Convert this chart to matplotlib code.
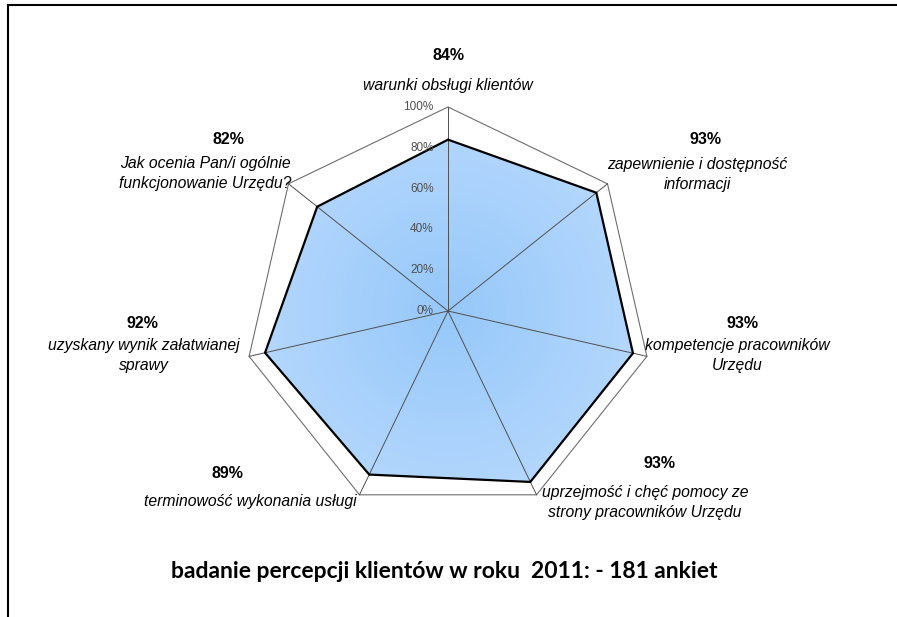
import numpy as np
import matplotlib.pyplot as plt
from matplotlib.patches import Polygon
from matplotlib.lines import Line2D

categories = [
    'warunki obsługi klientów',
    'zapewnienie i dostępność\ninformacji',
    'kompetencje pracowników\nUrzędu',
    'uprzejmość i chęć pomocy ze\nstrony pracowników Urzędu',
    'terminowość wykonania usługi',
    'uzyskany wynik załatwianej\nsprawy',
    'Jak ocenia Pan/i ogólnie\nfunkcjonowanie Urzędu?',
]
values = [84, 93, 93, 93, 89, 92, 82]
ticks = [0, 20, 40, 60, 80, 100]
title = 'badanie percepcji klientów w roku  2011: - 181 ankiet'

# label anchors in pixels: (percent x, percent y, text x, first line y)
label_pos = [
    (448, 56, 448, 87),
    (705, 140, 697, 166),
    (742, 323, 737, 347),
    (660, 463, 645, 494),
    (227, 474, 250, 503),
    (142, 323, 144, 347),
    (228, 140, 205, 165),
]

W, H = 897, 617
fig = plt.figure(figsize=(W / 100, H / 100), dpi=100)
cx, cy = 448, H - 311
scale = 2.04  # px per percent
ax = fig.add_axes([0, 0, 1, 1])
ax.set_xlim(-cx / scale, (W - cx) / scale)
ax.set_ylim(-cy / scale, (H - cy) / scale)
ax.axis('off')

n = len(values)
ang = np.arange(n) * 2 * np.pi / n
v = np.array(values, dtype=float)
xs, ys = v * np.sin(ang), v * np.cos(ang)
ox, oy = 100 * np.sin(ang), 100 * np.cos(ang)

# gradient fill clipped to the data polygon
gx, gy = np.meshgrid(np.linspace(-100, 100, 300), np.linspace(-100, 100, 300))
d = np.clip(np.hypot(gx, gy) / 100, 0, 1)
c0 = np.array([150, 200, 250]) / 255
c1 = np.array([182, 216, 253]) / 255
img = c0[None, None, :] * (1 - d[..., None]) + c1[None, None, :] * d[..., None]
poly = Polygon(np.column_stack([xs, ys]), closed=True, facecolor='none',
               edgecolor='black', linewidth=1.6, zorder=4)
ax.add_patch(poly)
im = ax.imshow(img, extent=(-100, 100, -100, 100), origin='lower', zorder=2)
im.set_clip_path(poly)

# outer ring and spokes
ax.add_patch(Polygon(np.column_stack([ox, oy]), closed=True, facecolor='none',
                     edgecolor='#6e6e6e', linewidth=0.8, zorder=3))
for x1, y1 in zip(ox, oy):
    ax.plot([0, x1], [0, y1], color='#505050', linewidth=0.7, zorder=3)

for t in ticks:
    ax.text(-7, t, f'{t}%', ha='right', va='center', fontsize=8.5,
            color='#505050', family='Liberation Sans', zorder=5)

for cat, val, (px, py, tx, ty) in zip(categories, values, label_pos):
    fig.text(px / W, 1 - py / H, f'{val}%', ha='center', va='center',
             fontsize=11.5, fontweight='bold', family='Liberation Sans')
    fig.text(tx / W, 1 - (ty - 9) / H, cat, ha='center', va='top',
             fontsize=11.3, fontstyle='italic', family='Liberation Sans',
             linespacing=1.38)

fig.text(444 / W, 1 - 571 / H, title, ha='center', va='center',
         fontsize=16.5, fontweight='bold', family='Lato')

# frame lines on top and left
fig.add_artist(Line2D([8 / W, 1], [1 - 5 / H, 1 - 5 / H], color='black',
                      linewidth=1.5, transform=fig.transFigure))
fig.add_artist(Line2D([8 / W, 8 / W], [1 - 5 / H, 0], color='black',
                      linewidth=1.5, transform=fig.transFigure))

fig.savefig('out.png', dpi=100)
